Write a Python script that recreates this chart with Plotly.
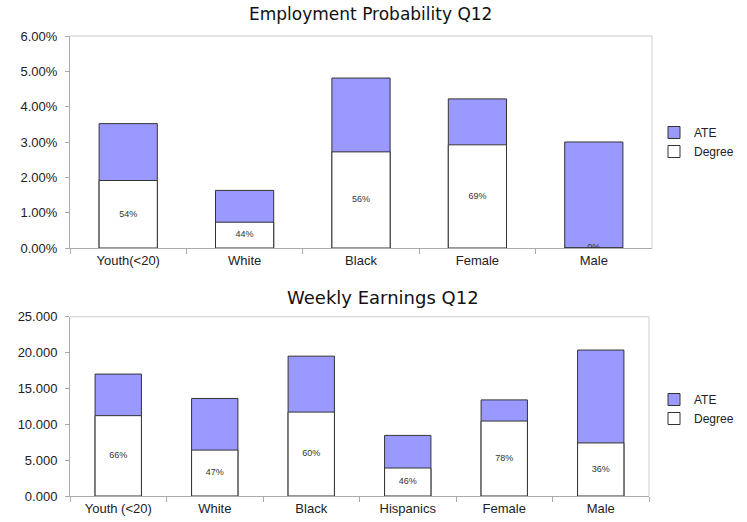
import plotly.graph_objects as go

# ---- data ----
emp_cats = ["Youth(<20)", "White", "Black", "Female", "Male"]
emp_ate = [3.52, 1.63, 4.81, 4.22, 3.00]
emp_degree = [1.91, 0.73, 2.72, 2.92, 0.0]
emp_share = ["54%", "44%", "56%", "69%", "0%"]
emp_ticks = [0, 1, 2, 3, 4, 5, 6]

earn_cats = ["Youth (<20)", "White", "Black", "Hispanics", "Female", "Male"]
earn_ate = [17.0, 13.6, 19.5, 8.45, 13.4, 20.35]
earn_degree = [11.2, 6.4, 11.7, 3.9, 10.45, 7.4]
earn_share = ["66%", "47%", "60%", "46%", "78%", "36%"]
earn_ticks = [0, 5, 10, 15, 20, 25]

PURPLE = "#9999ff"
EDGE = "#333333"
FONT = "Liberation Sans, Arial, sans-serif"
TFONT = "DejaVu Sans, Liberation Sans, sans-serif"

fig = go.Figure()

# top chart
fig.add_trace(go.Bar(x=emp_cats, y=emp_ate, name="ATE", marker=dict(color=PURPLE, line=dict(color=EDGE, width=1)),
                     width=0.5, xaxis="x", yaxis="y", legend="legend"))
fig.add_trace(go.Bar(x=emp_cats, y=emp_degree, name="Degree", marker=dict(color="white", line=dict(color=EDGE, width=1)),
                     width=0.5, xaxis="x", yaxis="y", legend="legend"))
fig.add_trace(go.Scatter(x=emp_cats, y=[d / 2 for d in emp_degree], text=emp_share, mode="text",
                         textfont=dict(size=9, color="#333333", family=FONT), showlegend=False,
                         hoverinfo="skip", xaxis="x", yaxis="y"))

# bottom chart
fig.add_trace(go.Bar(x=earn_cats, y=earn_ate, name="ATE", marker=dict(color=PURPLE, line=dict(color=EDGE, width=1)),
                     width=0.48, xaxis="x2", yaxis="y2", legend="legend2"))
fig.add_trace(go.Bar(x=earn_cats, y=earn_degree, name="Degree", marker=dict(color="white", line=dict(color=EDGE, width=1)),
                     width=0.48, xaxis="x2", yaxis="y2", legend="legend2"))
fig.add_trace(go.Scatter(x=earn_cats, y=[d / 2 for d in earn_degree], text=earn_share, mode="text",
                         textfont=dict(size=9, color="#333333", family=FONT), showlegend=False,
                         hoverinfo="skip", xaxis="x2", yaxis="y2"))

W, H = 747, 522
def px(v): return v / W
def py(v): return 1 - v / H

tickfont = dict(size=13, color="#222222", family=FONT)
xaxis_common = dict(showgrid=False, zeroline=False, showline=True, linecolor="#aaaaaa", linewidth=1,
                    ticks="outside", tickcolor="#aaaaaa", ticklen=5, tickson="boundaries",
                    automargin=False, tickfont=tickfont)
yaxis_common = dict(showgrid=False, zeroline=False, showline=True, linecolor="#aaaaaa", linewidth=1,
                    ticks="outside", tickcolor="#aaaaaa", ticklen=4, automargin=False,
                    ticklabelstandoff=5, tickfont=tickfont)

legend_font = dict(size=12, color="#222222", family=FONT)

fig.update_layout(
    width=W, height=H,
    margin=dict(l=0, r=0, t=0, b=0, autoexpand=False),
    paper_bgcolor="white", plot_bgcolor="white",
    barmode="overlay",
    font=dict(family=FONT, color="#222222"),
    xaxis=dict(domain=[px(70), px(652)], anchor="y", **xaxis_common),
    yaxis=dict(domain=[py(248), py(36)], anchor="x", range=[0, 6], tickvals=emp_ticks,
               ticktext=[f"{t:.2f}%" for t in emp_ticks], **yaxis_common),
    xaxis2=dict(domain=[px(70), px(649)], anchor="y2", **xaxis_common),
    yaxis2=dict(domain=[py(496), py(316.7)], anchor="x2", range=[0, 25], tickvals=earn_ticks,
                ticktext=[f"{t:.3f}" for t in earn_ticks], **yaxis_common),
    legend=dict(x=px(654), y=py(118), xanchor="left", yanchor="top", bgcolor="rgba(0,0,0,0)",
                font=legend_font, tracegroupgap=0, itemwidth=30),
    legend2=dict(x=px(654), y=py(385), xanchor="left", yanchor="top", bgcolor="rgba(0,0,0,0)",
                 font=legend_font, tracegroupgap=0, itemwidth=30),
    shapes=[
        dict(type="line", xref="x domain", yref="y domain", x0=0, x1=1, y0=1, y1=1, line=dict(color="#cccccc", width=1)),
        dict(type="line", xref="x domain", yref="y domain", x0=1, x1=1, y0=0, y1=1, line=dict(color="#cccccc", width=1)),
        dict(type="line", xref="x2 domain", yref="y2 domain", x0=0, x1=1, y0=1, y1=1, line=dict(color="#cccccc", width=1)),
        dict(type="line", xref="x2 domain", yref="y2 domain", x0=1, x1=1, y0=0, y1=1, line=dict(color="#cccccc", width=1)),
    ],
    annotations=[
        dict(text="Employment Probability Q12", x=px(370), y=py(14), xref="paper", yref="paper",
             xanchor="center", yanchor="middle",
             showarrow=False, font=dict(size=17, color="#111111", family=TFONT)),
        dict(text="Weekly Earnings Q12", x=px(383), y=py(297), xref="paper", yref="paper",
             xanchor="center", yanchor="middle",
             showarrow=False, font=dict(size=18, color="#111111", family=TFONT)),
    ],
)

fig.write_html("out.html")
